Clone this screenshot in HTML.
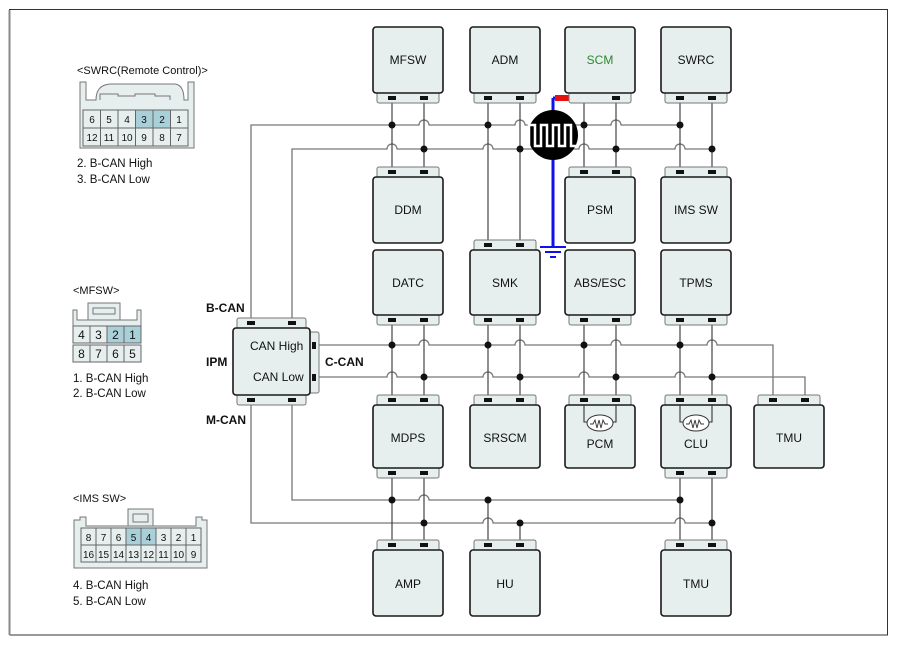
<!DOCTYPE html>
<html><head><meta charset="utf-8"><style>
html,body{margin:0;padding:0;background:#fff}
svg{display:block;font-family:"Liberation Sans",sans-serif}
.b{fill:#e7eeee;stroke:#1a1a1a;stroke-width:1.6}
.s{fill:#e7eeee;stroke:#777;stroke-width:1}
.w{fill:none;stroke:#777;stroke-width:1.3}
.v{fill:none;stroke:#333;stroke-width:1.1}
.c{fill:#111}
text{font-size:12px;fill:#111}
.t{text-anchor:middle}
</style></head><body>
<svg width="897" height="645" viewBox="0 0 897 645" xmlns="http://www.w3.org/2000/svg">
<path d="M9.5 635 V9.5 H887.5 V635 H9.5" fill="none" stroke="#333" stroke-width="1"/>
<line x1="9.5" y1="10" x2="9.5" y2="635" stroke="#888" stroke-width="2"/>

<!-- bus wires -->
<path class="w" d="M251 318 V125 H419 A5 5 0 0 1 429 125 H515 A5 5 0 0 1 525 125 H611 A5 5 0 0 1 621 125 H680"/>
<path class="w" d="M292 318 V149 H387 A5 5 0 0 1 397 149 H483 A5 5 0 0 1 493 149 H579 A5 5 0 0 1 589 149 H675 A5 5 0 0 1 685 149 H712"/>
<path class="w" d="M319 345 H419 A5 5 0 0 1 429 345 H515 A5 5 0 0 1 525 345 H611 A5 5 0 0 1 621 345 H707 A5 5 0 0 1 717 345 H773 V395"/>
<path class="w" d="M319 377 H387 A5 5 0 0 1 397 377 H483 A5 5 0 0 1 493 377 H579 A5 5 0 0 1 589 377 H675 A5 5 0 0 1 685 377 H805 V395"/>
<path class="w" d="M292 405 V500 H419 A5 5 0 0 1 429 500 H680"/>
<path class="w" d="M251 405 V523 H483 A5 5 0 0 1 493 523 H675 A5 5 0 0 1 685 523 H712"/>

<!-- verticals -->
<g class="v">
<path d="M392 103V167M424 103V167M488 103V240M520 103V240M584 103V167M616 103V167M680 103V167M712 103V167"/>
<path d="M392 325V395M424 325V395M488 325V395M520 325V395M584 325V422H616V325M680 325V422H712V325"/>
<path d="M392 478V540M424 478V540M488 500V540M520 523V540M680 478V540M712 478V540"/>
</g>

<!-- dots -->
<g class="c">
<circle cx="392" cy="125" r="3.5"/><circle cx="488" cy="125" r="3.5"/><circle cx="584" cy="125" r="3.5"/><circle cx="680" cy="125" r="3.5"/>
<circle cx="424" cy="149" r="3.5"/><circle cx="520" cy="149" r="3.5"/><circle cx="616" cy="149" r="3.5"/><circle cx="712" cy="149" r="3.5"/>
<circle cx="392" cy="345" r="3.5"/><circle cx="488" cy="345" r="3.5"/><circle cx="584" cy="345" r="3.5"/><circle cx="680" cy="345" r="3.5"/>
<circle cx="424" cy="377" r="3.5"/><circle cx="520" cy="377" r="3.5"/><circle cx="616" cy="377" r="3.5"/><circle cx="712" cy="377" r="3.5"/>
<circle cx="392" cy="500" r="3.5"/><circle cx="488" cy="500" r="3.5"/><circle cx="680" cy="500" r="3.5"/>
<circle cx="424" cy="523" r="3.5"/><circle cx="520" cy="523" r="3.5"/><circle cx="712" cy="523" r="3.5"/>
</g>

<!-- blue wire & ground -->
<path d="M553 98 V247" stroke="#1010ee" stroke-width="3" fill="none"/>
<path d="M553 98 H585" stroke="#1010ee" stroke-width="3"/>
<rect x="555" y="95" width="19" height="6" fill="#e81010"/>
<rect x="582" y="95" width="7" height="5" fill="#2a9a2a"/>
<path d="M540 247H566M545 252H561M550 257H556" stroke="#1010ee" stroke-width="2"/>
<circle cx="553" cy="135" r="25" fill="#000"/>
<path d="M529 146 V125 H535 V146 H541 V125 H547 V146 H553 V125 H559 V146 H565 V125 H571 V146 H577" fill="none" stroke="#fff" stroke-width="2.5"/>

<!-- top row -->
<g>
<rect class="s" x="377" y="92" width="62" height="11" rx="2"/><rect class="b" x="373" y="27" width="70" height="66" rx="3"/>
<rect class="s" x="474" y="92" width="62" height="11" rx="2"/><rect class="b" x="470" y="27" width="70" height="66" rx="3"/>
<rect class="s" x="569" y="92" width="62" height="11" rx="2"/><rect class="b" x="565" y="27" width="70" height="66" rx="3"/>
<rect class="s" x="665" y="92" width="62" height="11" rx="2"/><rect class="b" x="661" y="27" width="70" height="66" rx="3"/>
</g>
<text class="t" x="408" y="64">MFSW</text><text class="t" x="505" y="64">ADM</text>
<text class="t" x="600" y="64" style="fill:#2a8a2a">SCM</text><text class="t" x="696" y="64">SWRC</text>

<!-- second row -->
<rect class="s" x="377" y="167" width="62" height="11" rx="2"/><rect class="b" x="373" y="177" width="70" height="66" rx="3"/>
<rect class="s" x="569" y="167" width="62" height="11" rx="2"/><rect class="b" x="565" y="177" width="70" height="66" rx="3"/>
<rect class="s" x="665" y="167" width="62" height="11" rx="2"/><rect class="b" x="661" y="177" width="70" height="66" rx="3"/>
<text class="t" x="408" y="214">DDM</text><text class="t" x="600" y="214">PSM</text><text class="t" x="696" y="214">IMS SW</text>

<!-- third row -->
<rect class="s" x="377" y="314" width="62" height="11" rx="2"/><rect class="b" x="373" y="250" width="70" height="65" rx="3"/>
<rect class="s" x="474" y="240" width="62" height="11" rx="2"/><rect class="s" x="474" y="314" width="62" height="11" rx="2"/><rect class="b" x="470" y="250" width="70" height="65" rx="3"/>
<rect class="s" x="569" y="314" width="62" height="11" rx="2"/><rect class="b" x="565" y="250" width="70" height="65" rx="3"/>
<rect class="s" x="665" y="314" width="62" height="11" rx="2"/><rect class="b" x="661" y="250" width="70" height="65" rx="3"/>
<text class="t" x="408" y="287">DATC</text><text class="t" x="505" y="287">SMK</text><text class="t" x="600" y="287">ABS/ESC</text><text class="t" x="696" y="287">TPMS</text>

<!-- fourth row -->
<rect class="s" x="377" y="395" width="62" height="11" rx="2"/><rect class="s" x="377" y="467" width="62" height="11" rx="2"/><rect class="b" x="373" y="405" width="70" height="63" rx="3"/>
<rect class="s" x="474" y="395" width="62" height="11" rx="2"/><rect class="b" x="470" y="405" width="70" height="63" rx="3"/>
<rect class="s" x="569" y="395" width="62" height="11" rx="2"/><rect class="b" x="565" y="405" width="70" height="63" rx="3"/>
<rect class="s" x="665" y="395" width="62" height="11" rx="2"/><rect class="s" x="665" y="467" width="62" height="11" rx="2"/><rect class="b" x="661" y="405" width="70" height="63" rx="3"/>
<rect class="s" x="758" y="395" width="62" height="11" rx="2"/><rect class="b" x="754" y="405" width="70" height="63" rx="3"/>
<path class="v" d="M584 405V422H616V405M680 405V422H712V405"/>
<g fill="#fff" stroke="#333" stroke-width="1">
<ellipse cx="600" cy="423" rx="13" ry="8"/><ellipse cx="696" cy="423" rx="13" ry="8"/></g>
<path d="M590 424h3l2-4 2 8 2-8 2 8 2-8 2 4h3M686 424h3l2-4 2 8 2-8 2 8 2-8 2 4h3" fill="none" stroke="#333" stroke-width="0.9"/>
<text class="t" x="408" y="442">MDPS</text><text class="t" x="505" y="442">SRSCM</text><text class="t" x="600" y="448">PCM</text><text class="t" x="696" y="448">CLU</text><text class="t" x="789" y="442">TMU</text>

<!-- bottom row -->
<rect class="s" x="377" y="540" width="62" height="11" rx="2"/><rect class="b" x="373" y="550" width="70" height="66" rx="3"/>
<rect class="s" x="474" y="540" width="62" height="11" rx="2"/><rect class="b" x="470" y="550" width="70" height="66" rx="3"/>
<rect class="s" x="665" y="540" width="62" height="11" rx="2"/><rect class="b" x="661" y="550" width="70" height="66" rx="3"/>
<text class="t" x="408" y="588">AMP</text><text class="t" x="505" y="588">HU</text><text class="t" x="696" y="588">TMU</text>

<!-- IPM -->
<rect class="s" x="237" y="318" width="69" height="11" rx="2"/><rect class="s" x="237" y="394" width="69" height="11" rx="2"/>
<rect class="s" x="308" y="332" width="11" height="61" rx="2"/>
<rect class="b" x="233" y="328" width="77" height="67" rx="3"/>
<text x="250" y="350">CAN High</text><text x="253" y="381">CAN Low</text>
<text x="206" y="312" style="font-weight:bold;font-size:12px">B-CAN</text>
<text x="206" y="366" style="font-weight:bold">IPM</text>
<text x="325" y="366" style="font-weight:bold">C-CAN</text>
<text x="206" y="424" style="font-weight:bold">M-CAN</text>

<!-- connector pins -->
<g class="c">
<rect x="388" y="96" width="8" height="4"/><rect x="420" y="96" width="8" height="4"/>
<rect x="484" y="96" width="8" height="4"/><rect x="516" y="96" width="8" height="4"/>
<rect x="612" y="96" width="8" height="4"/>
<rect x="676" y="96" width="8" height="4"/><rect x="708" y="96" width="8" height="4"/>
<rect x="388" y="170" width="8" height="4"/><rect x="420" y="170" width="8" height="4"/>
<rect x="580" y="170" width="8" height="4"/><rect x="612" y="170" width="8" height="4"/>
<rect x="676" y="170" width="8" height="4"/><rect x="708" y="170" width="8" height="4"/>
<rect x="484" y="243" width="8" height="4"/><rect x="516" y="243" width="8" height="4"/>
<rect x="388" y="318" width="8" height="4"/><rect x="420" y="318" width="8" height="4"/>
<rect x="484" y="318" width="8" height="4"/><rect x="516" y="318" width="8" height="4"/>
<rect x="580" y="318" width="8" height="4"/><rect x="612" y="318" width="8" height="4"/>
<rect x="676" y="318" width="8" height="4"/><rect x="708" y="318" width="8" height="4"/>
<rect x="388" y="398" width="8" height="4"/><rect x="420" y="398" width="8" height="4"/>
<rect x="484" y="398" width="8" height="4"/><rect x="516" y="398" width="8" height="4"/>
<rect x="580" y="398" width="8" height="4"/><rect x="612" y="398" width="8" height="4"/>
<rect x="676" y="398" width="8" height="4"/><rect x="708" y="398" width="8" height="4"/>
<rect x="769" y="398" width="8" height="4"/><rect x="801" y="398" width="8" height="4"/>
<rect x="388" y="471" width="8" height="4"/><rect x="420" y="471" width="8" height="4"/>
<rect x="676" y="471" width="8" height="4"/><rect x="708" y="471" width="8" height="4"/>
<rect x="388" y="543" width="8" height="4"/><rect x="420" y="543" width="8" height="4"/>
<rect x="484" y="543" width="8" height="4"/><rect x="516" y="543" width="8" height="4"/>
<rect x="676" y="543" width="8" height="4"/><rect x="708" y="543" width="8" height="4"/>
<rect x="247" y="321" width="8" height="4"/><rect x="288" y="321" width="8" height="4"/>
<rect x="247" y="398" width="8" height="4"/><rect x="288" y="398" width="8" height="4"/>
<rect x="312" y="342" width="4" height="7"/><rect x="312" y="374" width="4" height="7"/>
</g>

<!-- SWRC connector -->
<text x="77" y="74" style="font-size:11px">&lt;SWRC(Remote Control)&gt;</text>
<path d="M80 148 V82 H86 V100 H96 Q96 85 110 84 H175 Q184 85 184 100 H188 V82 H194 V148 Z" fill="#e7eeee" stroke="#777"/>
<path d="M100 100 V94 H118 V96 H135 V94 H155 V96 H170 V100" fill="none" stroke="#777"/>
<g stroke="#666" stroke-width="1">
<rect x="83" y="110" width="105" height="36" fill="#e7eeee"/>
<rect x="135.5" y="110" width="35" height="18" fill="#a9d0d8"/>
<path d="M83 128H188M100.5 110V146M118 110V146M135.5 110V146M153 110V146M170.5 110V146" fill="none"/>
</g>
<g style="font-size:10px" class="t">
<text class="t" x="92" y="123" style="font-size:10px">6</text><text class="t" x="109" y="123" style="font-size:10px">5</text><text class="t" x="127" y="123" style="font-size:10px">4</text><text class="t" x="144" y="123" style="font-size:10px">3</text><text class="t" x="162" y="123" style="font-size:10px">2</text><text class="t" x="179" y="123" style="font-size:10px">1</text>
<text class="t" x="92" y="141" style="font-size:10px">12</text><text class="t" x="109" y="141" style="font-size:10px">11</text><text class="t" x="127" y="141" style="font-size:10px">10</text><text class="t" x="144" y="141" style="font-size:10px">9</text><text class="t" x="162" y="141" style="font-size:10px">8</text><text class="t" x="179" y="141" style="font-size:10px">7</text>
</g>
<text x="77" y="167" style="font-size:11.5px">2. B-CAN High</text>
<text x="77" y="183" style="font-size:11.5px">3. B-CAN Low</text>

<!-- MFSW connector -->
<text x="73" y="294" style="font-size:11px">&lt;MFSW&gt;</text>
<path d="M88 303 H120 V320 H88 Z" fill="#e7eeee" stroke="#777"/>
<path d="M93 308 H115 V314 H93 Z" fill="none" stroke="#777"/>
<path d="M73 326 V310 H77 V320 H137 V310 H141 V326" fill="#e7eeee" stroke="#777"/>
<g stroke="#666" stroke-width="1">
<rect x="73" y="326" width="68" height="17" fill="#e7eeee"/>
<rect x="107" y="326" width="34" height="17" fill="#a9d0d8"/>
<rect x="73" y="345" width="68" height="17" fill="#e7eeee"/>
<path d="M90 326V343M107 326V343M124 326V343M90 345V362M107 345V362M124 345V362" fill="none"/>
</g>
<text class="t" x="81.5" y="339">4</text><text class="t" x="98.5" y="339">3</text><text class="t" x="115.5" y="339">2</text><text class="t" x="132.5" y="339">1</text>
<text class="t" x="81.5" y="358">8</text><text class="t" x="98.5" y="358">7</text><text class="t" x="115.5" y="358">6</text><text class="t" x="132.5" y="358">5</text>
<text x="73" y="382" style="font-size:11.5px">1. B-CAN High</text>
<text x="73" y="397" style="font-size:11.5px">2. B-CAN Low</text>

<!-- IMS SW connector -->
<text x="73" y="502" style="font-size:11px">&lt;IMS SW&gt;</text>
<path d="M128 509 H153 V526 H128 Z" fill="#e7eeee" stroke="#777"/>
<path d="M133 514 H148 V522 H133 Z" fill="none" stroke="#777"/>
<path d="M74 568 V520 H80 V517 H86 V526 H196 V517 H202 V520 H207 V568 Z" fill="#e7eeee" stroke="#777"/>
<g stroke="#666" stroke-width="1">
<rect x="81" y="528" width="120" height="34" fill="#e7eeee"/>
<rect x="126" y="528" width="30" height="17" fill="#a9d0d8"/>
<path d="M81 545H201M96 528V562M111 528V562M126 528V562M141 528V562M156 528V562M171 528V562M186 528V562" fill="none"/>
</g>
<g>
<text class="t" x="88.5" y="541" style="font-size:10px">8</text><text class="t" x="103.5" y="541" style="font-size:10px">7</text><text class="t" x="118.5" y="541" style="font-size:10px">6</text><text class="t" x="133.5" y="541" style="font-size:10px">5</text><text class="t" x="148.5" y="541" style="font-size:10px">4</text><text class="t" x="163.5" y="541" style="font-size:10px">3</text><text class="t" x="178.5" y="541" style="font-size:10px">2</text><text class="t" x="193.5" y="541" style="font-size:10px">1</text>
<text class="t" x="88.5" y="558" style="font-size:10px">16</text><text class="t" x="103.5" y="558" style="font-size:10px">15</text><text class="t" x="118.5" y="558" style="font-size:10px">14</text><text class="t" x="133.5" y="558" style="font-size:10px">13</text><text class="t" x="148.5" y="558" style="font-size:10px">12</text><text class="t" x="163.5" y="558" style="font-size:10px">11</text><text class="t" x="178.5" y="558" style="font-size:10px">10</text><text class="t" x="193.5" y="558" style="font-size:10px">9</text>
</g>
<text x="73" y="589" style="font-size:11.5px">4. B-CAN High</text>
<text x="73" y="605" style="font-size:11.5px">5. B-CAN Low</text>
</svg>
</body></html>
